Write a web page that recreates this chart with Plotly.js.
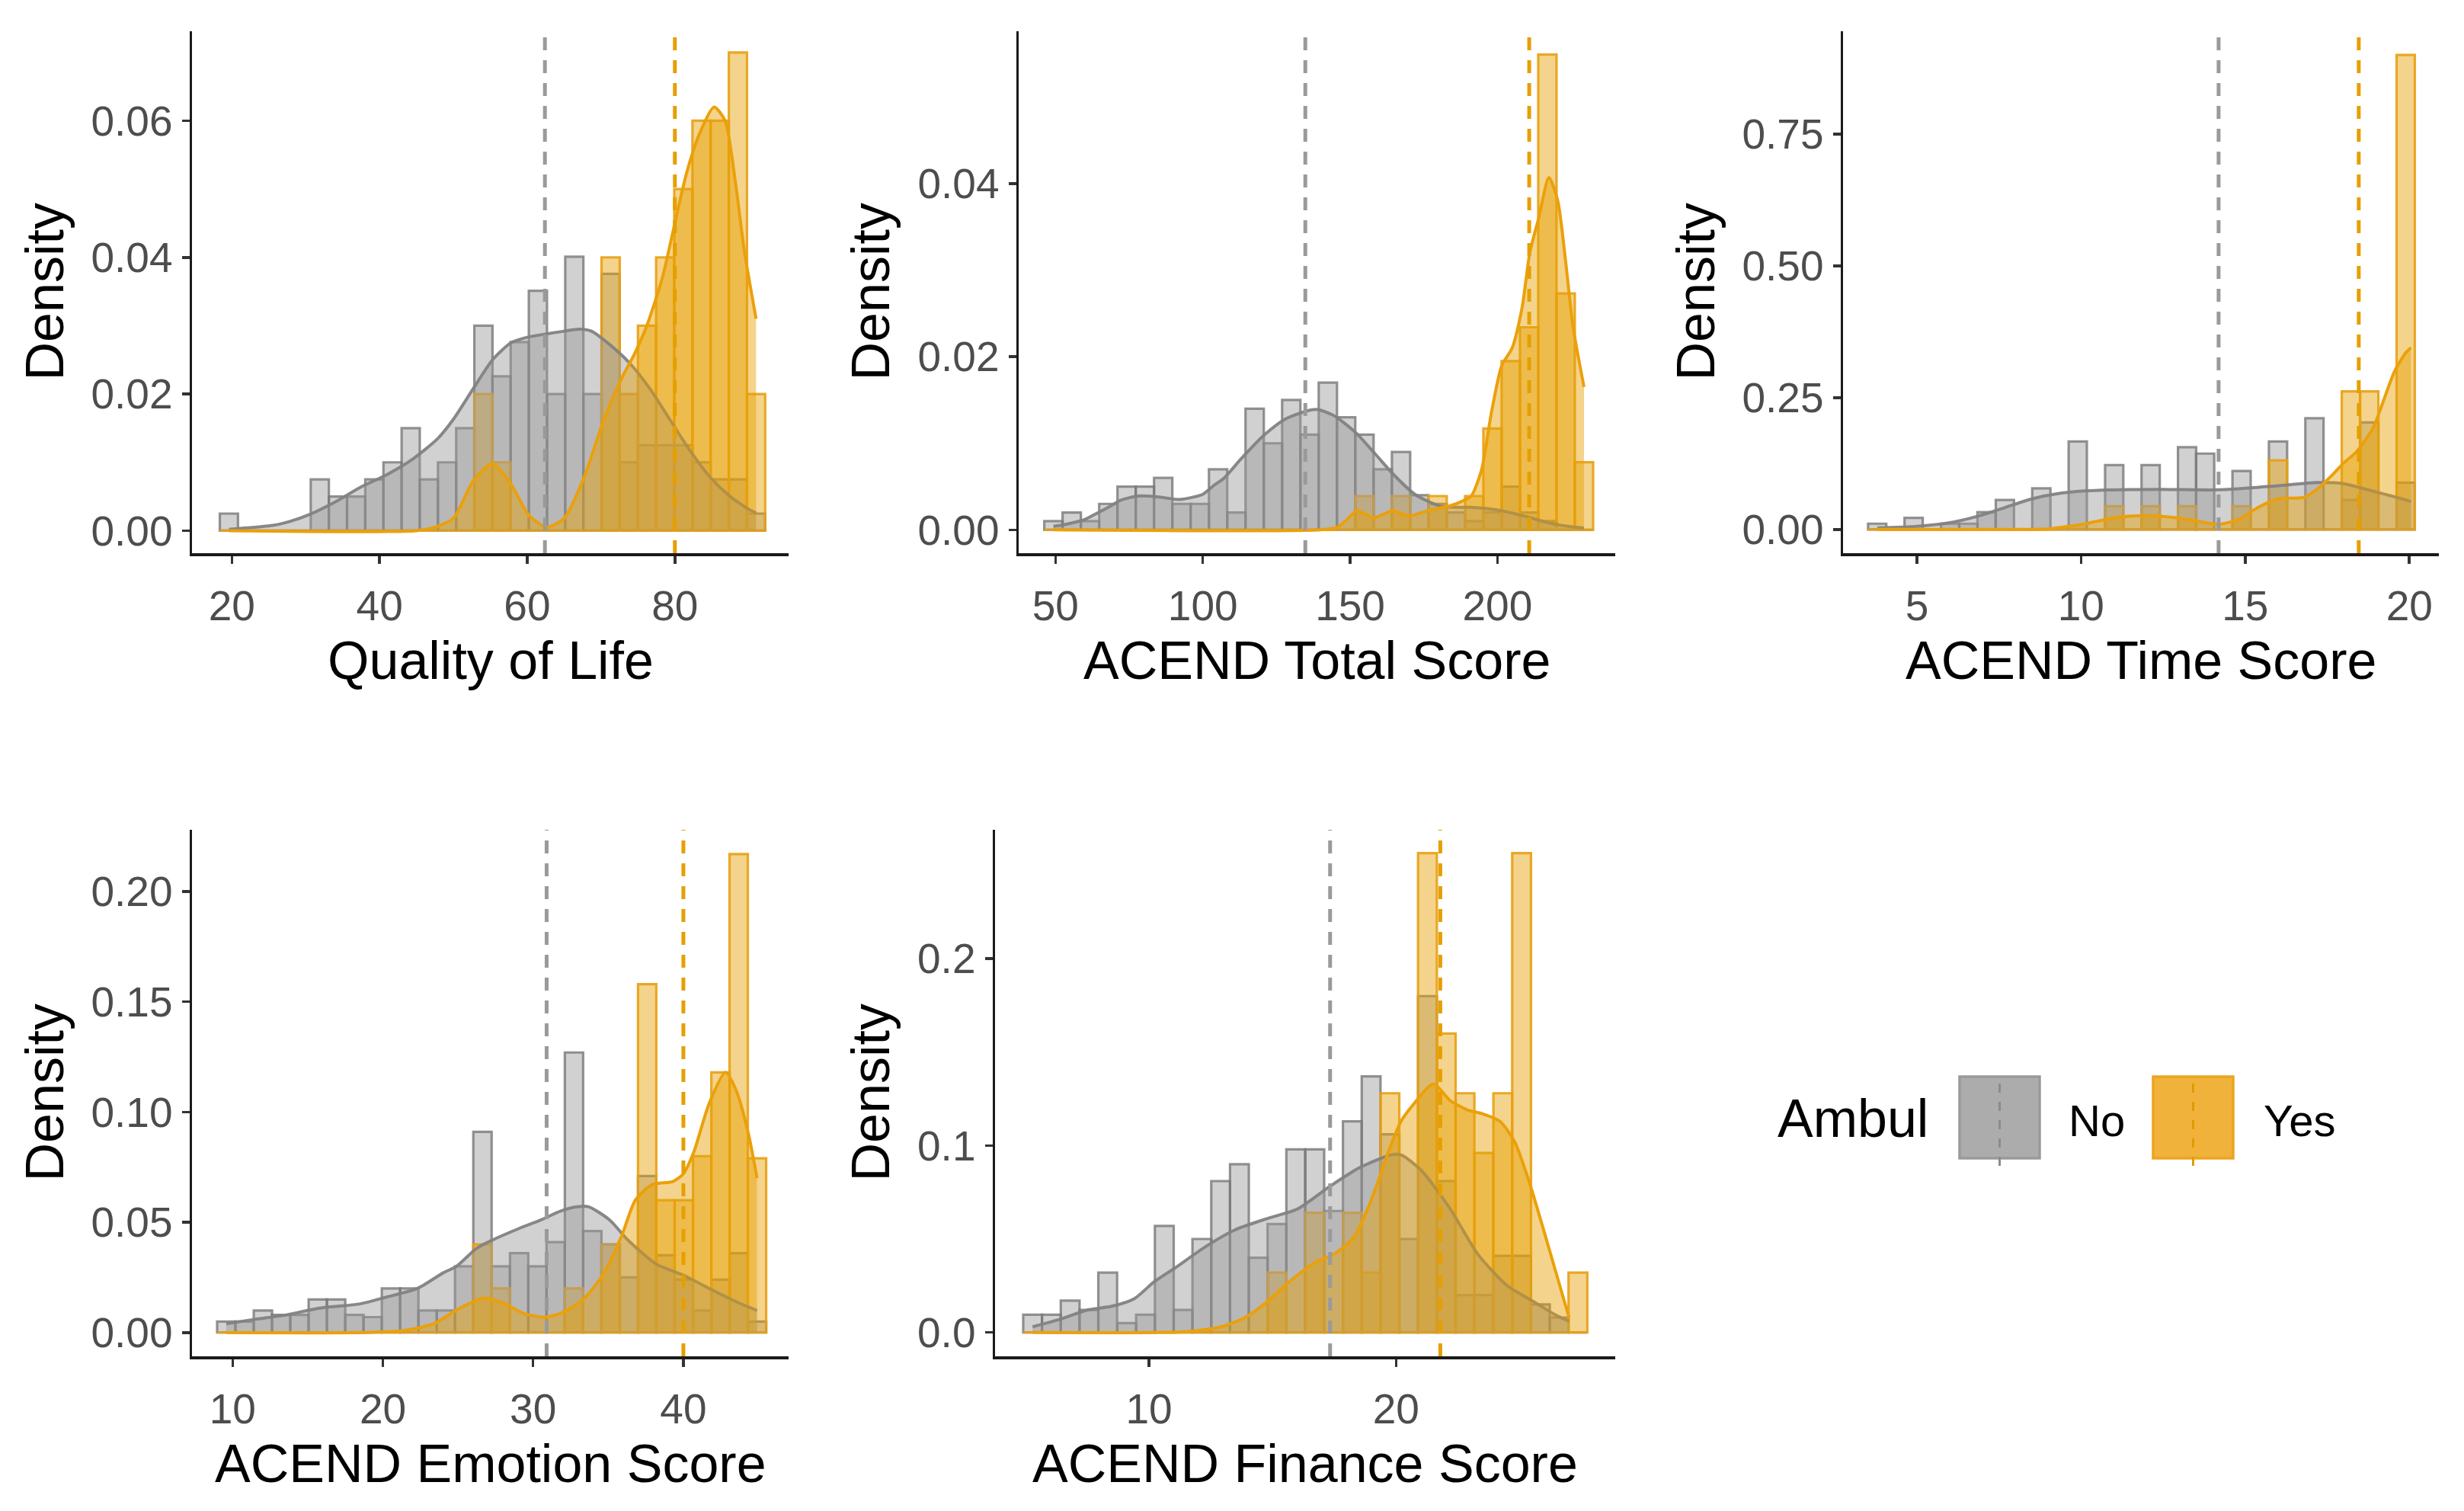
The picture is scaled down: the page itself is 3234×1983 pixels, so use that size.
<!DOCTYPE html>
<html>
<head>
<meta charset="utf-8">
<script src="https://cdn.plot.ly/plotly-3.0.1.min.js"></script>
<style>html,body{margin:0;padding:0;background:#fff;}#chart{width:3234px;height:1983px;}</style>
</head>
<body>
<div id="chart"></div>
<script>
// ---------------- Data ----------------
const groups = ["No", "Yes"];

// Panel 1: Quality of Life
const qolBins = [19.60,22.06,24.52,26.99,29.45,31.91,34.37,36.83,39.30,41.76,44.22,46.68,49.14,51.61,54.07,56.53,58.99,61.45,63.92,66.38,68.84,71.30,73.76,76.23,78.69,81.15,83.61,86.07,88.54,91.00];
const qolBinWidth = 2.462;
const qolNo  = [0.0025,0,0,0,0,0.0075,0.005,0.005,0.0075,0.010,0.015,0.0075,0.010,0.015,0.030,0.0226,0.0276,0.0351,0.020,0.0401,0.020,0.0376,0.010,0.0125,0.0125,0.0125,0.010,0.0075,0.0075,0.0025];
const qolYes = [0,0,0,0,0,0,0,0,0,0,0,0,0,0,0.020,0.010,0,0,0,0,0,0.040,0.020,0.030,0.040,0.050,0.060,0.060,0.070,0.020];
const qolDensNoX  = [19.6,22,25.7,28,30.6,34,37.5,41,44.4,47.9,50,52.7,55.3,57.8,60,62.6,65,67,68.7,71.1,73.9,76.6,79.3,82,84.8,87.5,90.2,91.0];
const qolDensNoY  = [0.0002,0.0004,0.0008,0.0014,0.0024,0.0042,0.0064,0.0082,0.0104,0.0135,0.0163,0.0208,0.025,0.0275,0.0283,0.0288,0.0292,0.0295,0.0292,0.0273,0.0245,0.0208,0.0163,0.0118,0.0078,0.005,0.003,0.0026];
const qolDensYesX = [19.6,45,47.5,50,52.7,55.3,57.8,60.2,62.6,65,67.7,70.4,72.8,74.5,76.2,78.3,80,81.5,83.3,85.3,86.8,88.2,89.4,91.0];
const qolDensYesY = [0,0,0.0005,0.0018,0.0073,0.0098,0.0068,0.0023,0.0005,0.0018,0.0078,0.0163,0.0223,0.0258,0.030,0.037,0.045,0.052,0.058,0.062,0.060,0.051,0.041,0.031];
const qolMeans = [62.4, 80.0];

// Panel 2: ACEND Total Score
const totBins = [49.30,55.51,61.72,67.93,74.14,80.35,86.56,92.77,98.98,105.19,111.40,117.61,123.82,130.03,136.24,142.45,148.66,154.87,161.08,167.29,173.50,179.71,185.92,192.13,198.34,204.55,210.76,216.97,223.18,229.39];
const totBinWidth = 6.21;
const totNo  = [0.001,0.002,0.001,0.003,0.005,0.005,0.006,0.003,0.003,0.007,0.002,0.014,0.010,0.015,0.011,0.017,0.013,0.011,0.007,0.009,0.004,0.003,0.002,0.001,0.002,0.005,0.002,0.001,0,0];
const totYes = [0,0,0,0,0,0,0,0,0,0,0,0,0,0,0,0,0,0.0039,0,0.0039,0,0.0039,0,0.0039,0.0117,0.0195,0.0234,0.0549,0.0273,0.0078];
const totDensNoX  = [49.3,53,60,64,69,72,78,85,92,97,100,104,107,113,121,128,135,139,144.5,152,158.7,165,172,181,191,200,209,217.5,224,229.4];
const totDensNoY  = [0.0004,0.0006,0.0012,0.0019,0.0028,0.0034,0.0039,0.0038,0.0035,0.0038,0.0041,0.0052,0.0059,0.0082,0.011,0.0128,0.0137,0.0139,0.0132,0.0112,0.0087,0.0063,0.0041,0.0027,0.0026,0.0023,0.0016,0.0008,0.0004,0.0002];
const totDensYesX = [49.3,140,145.7,149,152.2,155.2,158.2,161.3,164.3,167.3,170.3,173.4,176.4,180.3,184.2,188,191.1,194.6,198,201.5,205,208.4,211,214,217.5,220.5,223.1,225.7,229.4];
const totDensYesY = [0,0,0.0003,0.0012,0.0022,0.0018,0.0014,0.0018,0.0022,0.0019,0.0016,0.0019,0.0022,0.0025,0.0028,0.0033,0.0039,0.0069,0.0136,0.019,0.021,0.0257,0.032,0.036,0.0407,0.038,0.0312,0.0234,0.0165];
const totMeans = [134.8, 210.8];

// Panel 3: ACEND Time Score
const timeBins = [3.79,4.35,4.90,5.46,6.01,6.57,7.12,7.68,8.23,8.79,9.34,9.90,10.45,11.01,11.56,12.12,12.67,13.23,13.78,14.34,14.89,15.45,16.00,16.56,17.11,17.67,18.22,18.78,19.33,19.89];
const timeBinWidth = 0.555;
const timeNo  = [0.011,0,0.022,0,0.011,0.011,0.033,0.056,0,0.078,0,0.167,0,0.122,0,0.122,0,0.156,0.144,0,0.111,0,0.167,0,0.211,0,0.056,0.203,0,0.089];
const timeYes = [0,0,0,0,0,0,0,0,0,0,0,0,0,0.044,0,0.044,0,0.044,0,0,0.044,0,0.131,0,0,0,0.262,0.262,0,0.900];
const timeDensNoX  = [3.79,5,6.1,6.9,7.7,8.5,9.3,10.1,10.85,12.4,14,14.8,16,17.2,18,18.76,19.55,20.05];
const timeDensNoY  = [0.003,0.006,0.014,0.026,0.042,0.058,0.068,0.073,0.075,0.076,0.075,0.077,0.083,0.089,0.087,0.075,0.062,0.053];
const timeDensYesX = [3.79,8,9,9.27,10.06,11.1,11.9,12.8,13.5,14.2,14.8,15.4,16,16.8,17.2,17.6,18,18.4,18.9,19.2,19.55,19.89,20.05];
const timeDensYesY = [0,0,0.001,0.003,0.01,0.023,0.026,0.023,0.016,0.01,0.019,0.042,0.058,0.061,0.077,0.10,0.126,0.148,0.193,0.242,0.30,0.335,0.345];
const timeMeans = [14.19, 18.46];

// Panel 4: ACEND Emotion Score
const emoBins = [9.58,10.80,12.02,13.23,14.45,15.67,16.89,18.11,19.32,20.54,21.76,22.98,24.20,25.41,26.63,27.85,29.07,30.29,31.50,32.72,33.94,35.16,36.38,37.59,38.81,40.03,41.25,42.47,43.68,44.90];
const emoBinWidth = 1.218;
const emoNo  = [0.005,0.005,0.010,0.008,0.008,0.015,0.015,0.008,0.007,0.020,0.020,0.010,0.010,0.030,0.091,0.030,0.036,0.030,0.041,0.127,0.046,0.040,0.025,0.071,0.035,0.024,0.010,0.024,0.036,0.005];
const emoYes = [0,0,0,0,0,0,0,0,0,0,0,0,0,0,0.040,0.020,0,0,0,0.020,0,0.040,0,0.158,0.060,0.060,0.080,0.118,0.217,0.079];
const emoDensNoX  = [9.58,11.5,13.6,15.7,18.5,20.2,22.3,24,24.9,26.2,27,29,30.5,31.8,32.9,33.7,35.1,36.3,38.2,40,42,43.5,44.9];
const emoDensNoY  = [0.004,0.006,0.008,0.011,0.013,0.016,0.02,0.027,0.03,0.038,0.041,0.047,0.051,0.055,0.057,0.057,0.051,0.042,0.031,0.026,0.019,0.014,0.01];
const emoDensYesX = [9.58,18.7,21.5,23.4,25.1,26.8,28.1,29.4,30.7,31.8,33.3,34.6,35.9,36.8,37.9,39.3,40,40.7,41.7,42.8,43.5,44.3,44.9];
const emoDensYesY = [0,0,0.001,0.004,0.011,0.0156,0.013,0.0086,0.007,0.0086,0.0148,0.0257,0.044,0.06,0.067,0.0685,0.072,0.082,0.1036,0.118,0.11,0.091,0.07];
const emoMeans = [30.9, 40.0];

// Panel 5: ACEND Finance Score
const finBins = [5.29,6.05,6.81,7.57,8.33,9.10,9.86,10.62,11.38,12.14,12.90,13.66,14.42,15.18,15.94,16.71,17.47,18.23,18.99,19.75,20.51,21.27,22.03,22.79,23.55,24.32,25.08,25.84,26.60,27.36];
const finBinWidth = 0.761;
const finNo  = [0.0095,0.0095,0.017,0.012,0.032,0.005,0.0095,0.057,0.012,0.050,0.081,0.090,0.040,0.058,0.098,0.098,0.065,0.113,0.137,0.106,0.050,0.180,0.081,0.020,0.020,0.041,0.041,0.015,0.008,0];
const finYes = [0,0,0,0,0,0,0,0,0,0,0,0,0,0.032,0,0.064,0,0.064,0.032,0.128,0,0.2565,0.160,0.128,0.096,0.128,0.2565,0,0,0.032];
const finDensNoX  = [5.29,6.4,7.5,8.5,9.4,10.2,11.0,12.3,13.5,14.8,16,17.3,18.5,19.8,20.2,21,22.2,23.3,24.5,25.5,26.5,27.0];
const finDensNoY  = [0.003,0.007,0.012,0.014,0.018,0.027,0.034,0.046,0.055,0.061,0.066,0.078,0.088,0.095,0.095,0.087,0.066,0.042,0.025,0.017,0.009,0.006];
const finDensYesX = [5.29,11.6,12.9,13.9,14.8,15.8,16.8,17.5,18.3,19.0,19.7,20.2,20.7,21.5,22.2,22.9,23.5,24.2,24.8,25.4,26.1,27.0];
const finDensYesY = [0,0.0005,0.003,0.008,0.0166,0.0285,0.038,0.042,0.051,0.071,0.097,0.113,0.122,0.133,0.124,0.119,0.117,0.113,0.102,0.08,0.049,0.008];
const finMeans = [17.33, 21.79];

// Axis labels / ticks
const xTitles = ["Quality of Life", "ACEND Total Score", "ACEND Time Score", "ACEND Emotion Score", "ACEND Finance Score"];
const yTitle = "Density";
const legendTitle = "Ambul";
const xTickVals = [[20,40,60,80],[50,100,150,200],[5,10,15,20],[10,20,30,40],[10,20]];
const yTickVals = [[0,0.02,0.04,0.06],[0,0.02,0.04],[0,0.25,0.5,0.75],[0,0.05,0.1,0.15,0.2],[0,0.1,0.2]];

// ---------------- Build chart ----------------
const W = 3234, H = 1983;
const px = v => v / W, py = v => 1 - v / H;

const panels = [
  {bins: qolBins, bw: qolBinWidth, no: qolNo, yes: qolYes, dnx: qolDensNoX, dny: qolDensNoY, dyx: qolDensYesX, dyy: qolDensYesY, means: qolMeans,
   xr: [14.6, 95.4], yr: [-0.0033, 0.0731], fmt: '.2f', box: [252, 1035, 41, 726], ytx: 58},
  {bins: totBins, bw: totBinWidth, no: totNo, yes: totYes, dnx: totDensNoX, dny: totDensNoY, dyx: totDensYesX, dyy: totDensYesY, means: totMeans,
   xr: [37.5, 240], yr: [-0.0027, 0.0576], fmt: '.2f', box: [1337, 2120, 41, 726], ytx: 1142},
  {bins: timeBins, bw: timeBinWidth, no: timeNo, yes: timeYes, dnx: timeDensNoX, dny: timeDensNoY, dyx: timeDensYesX, dyy: timeDensYesY, means: timeMeans,
   xr: [2.75, 20.9], yr: [-0.045, 0.945], fmt: '.2f', box: [2419, 3201, 41, 726], ytx: 2225},
  {bins: emoBins, bw: emoBinWidth, no: emoNo, yes: emoYes, dnx: emoDensNoX, dny: emoDensNoY, dyx: emoDensYesX, dyy: emoDensYesY, means: emoMeans,
   xr: [7.3, 47.0], yr: [-0.0108, 0.228], fmt: '.2f', box: [252, 1035, 1089, 1780], ytx: 58},
  {bins: finBins, bw: finBinWidth, no: finNo, yes: finYes, dnx: finDensNoX, dny: finDensNoY, dyx: finDensYesX, dyy: finDensYesY, means: finMeans,
   xr: [3.77, 28.87], yr: [-0.0128, 0.269], fmt: '.1f', box: [1306, 2120, 1089, 1780], ytx: 1142}
];

const colNo = {bar: 'rgba(153,153,153,0.45)', barLine: 'rgba(120,120,120,0.8)', dens: 'rgba(153,153,153,0.45)', densLine: 'rgba(130,130,130,0.95)', mean: '#9a9a9a'};
const colYes = {bar: 'rgba(230,159,0,0.45)', barLine: 'rgba(232,160,20,0.9)', dens: 'rgba(230,159,0,0.45)', densLine: 'rgba(235,160,10,1)', mean: '#E69F00'};

const FONT = 'Liberation Sans, Arial, sans-serif';
const traces = [], shapes = [], annotations = [];
const layout = {
  width: W, height: H, margin: {l: 0, r: 0, t: 0, b: 0},
  paper_bgcolor: '#ffffff', plot_bgcolor: 'rgba(0,0,0,0)',
  barmode: 'overlay', bargap: 0, showlegend: false,
  font: {family: FONT, color: '#000'},
  shapes: shapes, annotations: annotations
};

panels.forEach((p, i) => {
  const n = i + 1;
  const xa = n === 1 ? 'x' : 'x' + n, ya = n === 1 ? 'y' : 'y' + n;
  const xk = n === 1 ? 'xaxis' : 'xaxis' + n, yk = n === 1 ? 'yaxis' : 'yaxis' + n;
  const [l, r, t, b] = p.box;
  const axCommon = {
    showline: true, linecolor: '#1a1a1a', linewidth: 3.5, mirror: false,
    ticks: 'outside', ticklen: 10, tickwidth: 3.5, tickcolor: '#333333',
    showgrid: false, zeroline: false, autorange: false, fixedrange: true,
    tickfont: {family: FONT, size: 55, color: '#4d4d4d'}
  };
  layout[xk] = Object.assign({}, axCommon, {
    domain: [px(l), px(r)], anchor: ya, range: p.xr,
    tickmode: 'array', tickvals: xTickVals[i], ticklabelstandoff: 8
  });
  layout[yk] = Object.assign({}, axCommon, {
    domain: [py(b), py(t)], anchor: xa, range: p.yr,
    tickmode: 'array', tickvals: yTickVals[i], tickformat: p.fmt, ticklabelstandoff: 1
  });

  [[p.no, colNo, groups[0]], [p.yes, colYes, groups[1]]].forEach(([vals, c, g]) => {
    traces.push({type: 'bar', name: g, x: p.bins, y: vals, width: p.bw, xaxis: xa, yaxis: ya,
      marker: {color: c.bar, line: {color: c.barLine, width: 3.2}}, hoverinfo: 'skip'});
  });
  [[p.dnx, p.dny, colNo, groups[0]], [p.dyx, p.dyy, colYes, groups[1]]].forEach(([dx, dy, c, g]) => {
    traces.push({type: 'scatter', mode: 'lines', name: g, x: dx, y: dy, xaxis: xa, yaxis: ya,
      fill: 'tozeroy', fillcolor: c.dens, line: {color: c.densLine, width: 4, shape: 'spline', smoothing: 0.7}, hoverinfo: 'skip'});
  });
  p.means.forEach((m, k) => {
    const c = k === 0 ? colNo : colYes;
    shapes.push({type: 'line', xref: xa, yref: ya + ' domain', x0: m, x1: m, y0: 0, y1: 1,
      line: {color: c.mean, width: 5, dash: '17px,13px'}, layer: 'above'});
  });

  // axis titles
  annotations.push({text: xTitles[i], xref: 'paper', yref: 'paper', x: px((l + r) / 2), y: py(b + 141),
    xanchor: 'center', yanchor: 'middle', showarrow: false, font: {family: FONT, size: 70, color: '#000'}});
  annotations.push({text: yTitle, xref: 'paper', yref: 'paper', x: px(p.ytx), y: py((t + b) / 2), textangle: -90,
    xanchor: 'center', yanchor: 'middle', showarrow: false, font: {family: FONT, size: 70, color: '#000'}});
});

// Legend (drawn as key boxes + text)
annotations.push({text: legendTitle, xref: 'paper', yref: 'paper', x: px(2432), y: py(1468), xanchor: 'center', yanchor: 'middle',
  showarrow: false, font: {family: FONT, size: 70, color: '#000'}});
const keys = [
  {x0: 2572, x1: 2677, fill: '#acacac', line: '#9a9a9a', dash: '#8c8c8c', label: groups[0], lx: 2752},
  {x0: 2826, x1: 2931, fill: '#f0b23a', line: '#eaa520', dash: '#e39a00', label: groups[1], lx: 3018}
];
keys.forEach(k => {
  shapes.push({type: 'rect', xref: 'paper', yref: 'paper', x0: px(k.x0), x1: px(k.x1), y0: py(1520), y1: py(1413),
    fillcolor: k.fill, line: {color: k.line, width: 3.5}});
  const cx = px((k.x0 + k.x1) / 2);
  shapes.push({type: 'line', xref: 'paper', yref: 'paper', x0: cx, x1: cx, y0: py(1530), y1: py(1413),
    line: {color: k.dash, width: 3, dash: '12px,12px'}});
  annotations.push({text: k.label, xref: 'paper', yref: 'paper', x: px(k.lx), y: py(1470), xanchor: 'center', yanchor: 'middle',
    showarrow: false, font: {family: FONT, size: 58, color: '#000'}});
});

Plotly.newPlot('chart', traces, layout, {staticPlot: true, displayModeBar: false});
</script>
</body>
</html>
